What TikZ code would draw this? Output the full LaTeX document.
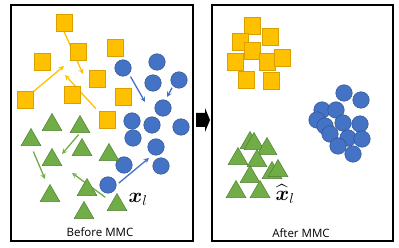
\documentclass[tikz,border=0pt]{standalone}
\usepackage{amsmath}
\usepackage{fontspec}
\newfontfamily\capfont{Open Sans}
\usetikzlibrary{shapes.geometric,backgrounds}
\definecolor{mmcyellow}{HTML}{FFC000}
\definecolor{mmcyellowd}{HTML}{D9A000}
\definecolor{mmcblue}{HTML}{4472C4}
\definecolor{mmcblued}{HTML}{2F528F}
\definecolor{mmcgreen}{HTML}{70AD47}
\definecolor{mmcgreend}{HTML}{507E32}
\begin{document}
\begin{tikzpicture}[x=1pt, y=-1pt,
  sq/.style={rectangle, draw=mmcyellowd, fill=mmcyellow, line width=0.5pt,
             minimum size=16.5pt, inner sep=0pt},
  dot/.style={circle, draw=mmcblued, fill=mmcblue, line width=0.5pt,
              minimum size=16.5pt, inner sep=0pt},
  tri/.style={regular polygon, regular polygon sides=3, draw=mmcgreend,
              fill=mmcgreen, line width=0.5pt, minimum size=23pt, inner sep=0pt},
  panel/.style={draw, line width=1.3pt},
  caption/.style={font=\capfont\fontsize{11.5}{13}\selectfont},
  sample/.style={font=\fontsize{20}{20}\selectfont, inner sep=0pt},
  flow/.style={->, >=stealth, line width=1.3pt}]
  \useasboundingbox (0,0) rectangle (399,248);
  % frames
  \draw[panel] (11,5) rectangle (193,241);
  \draw[panel] (212,5) rectangle (393,241);
  \fill (196,113) -- (205,113) -- (205,108) -- (210,120) -- (205,132)
    -- (205,127) -- (196,127) -- cycle;
  % before
  \foreach \p [count=\i] in {(64,23),(78,52),(115,48),(42,62),(97,79),
      (25,100),(72,95),(123,97),(107,120)}
    \node[sq] (sl\i) at \p {};
  \foreach \p [count=\i] in {(123,68),(157,62),(153,83),(179,80),(163,108),
      (132,121),(152,125),(181,127),(133,138),(156,147),(124,165),(161,166),(108,185)}
    \node[dot] (cl\i) at \p {};
  \foreach \p [count=\i] in {(52,125),(80,127),(31,140),(82,150),(52,160),
      (109,155),(50,196),(87,190),(117,205),(84,213)}
    \node[tri] (tl\i) at \p {};
  \node[sample] (xl) at (138,199) {$\boldsymbol{x}_l$};
  \node[caption] (before) at (100,232) {Before MMC};
  % moves
  \coordinate (ya) at (83,74);
  \coordinate (yb) at (64,66);
  \coordinate (yc) at (65,75);
  \coordinate (ba) at (145,102);
  \coordinate (bb) at (167,97);
  \coordinate (bc) at (149,158);
  \coordinate (ga) at (62,154);
  \coordinate (gb) at (45,179);
  \coordinate (gc) at (72,173);
  \begin{pgfonlayer}{background}
    \draw[flow, mmcyellow] (sl1.south) -- (ya);
    \draw[flow, mmcyellow] (sl6.north east) -- (yb);
    \draw[flow, mmcyellow, shorten <=4pt] (sl9.north west) -- (yc);
    \draw[flow, mmcblue, shorten <=3pt] (cl1.south east) -- (ba);
    \draw[flow, mmcblue, shorten <=2pt] (cl4.south west) -- (bb);
    \draw[flow, mmcblue, shorten <=3pt] (cl13.east) -- (bc);
    \draw[flow, mmcgreen, shorten <=2pt] (tl2.side 2) -- (ga);
    \draw[flow, mmcgreen, shorten <=6pt] (tl3.side 2) -- (gb);
    \draw[flow, mmcgreen, shorten <=8pt] (tl9.side 1) -- (gc);
  \end{pgfonlayer}
  % after
  \foreach \p [count=\i] in {(252,26),(270,37),(240,42),(252,51),(235,62),
      (267,62),(282,58),(246,80),(271,81)}
    \node[sq] (sr\i) at \p {};
  \foreach \p [count=\i] in {(344,93),(361,100),(322,110),(336,110),(317,120),
      (343,123),(360,124),(325,126),(330,134),(348,138),(362,139),(338,146),(353,154)}
    \node[dot] (cr\i) at \p {};
  \foreach \p [count=\i] in {(250,143),(254,144),(267,149),(238,159),(257,161),
      (250,177),(272,173),(278,171),(236,192),(260,192)}
    \node[tri] (tr\i) at \p {};
  \node[sample] (xh) at (285,194) {$\widehat{\boldsymbol{x}}_l$};
  \node[caption] (after) at (301,233) {After MMC};
\end{tikzpicture}
\end{document}
